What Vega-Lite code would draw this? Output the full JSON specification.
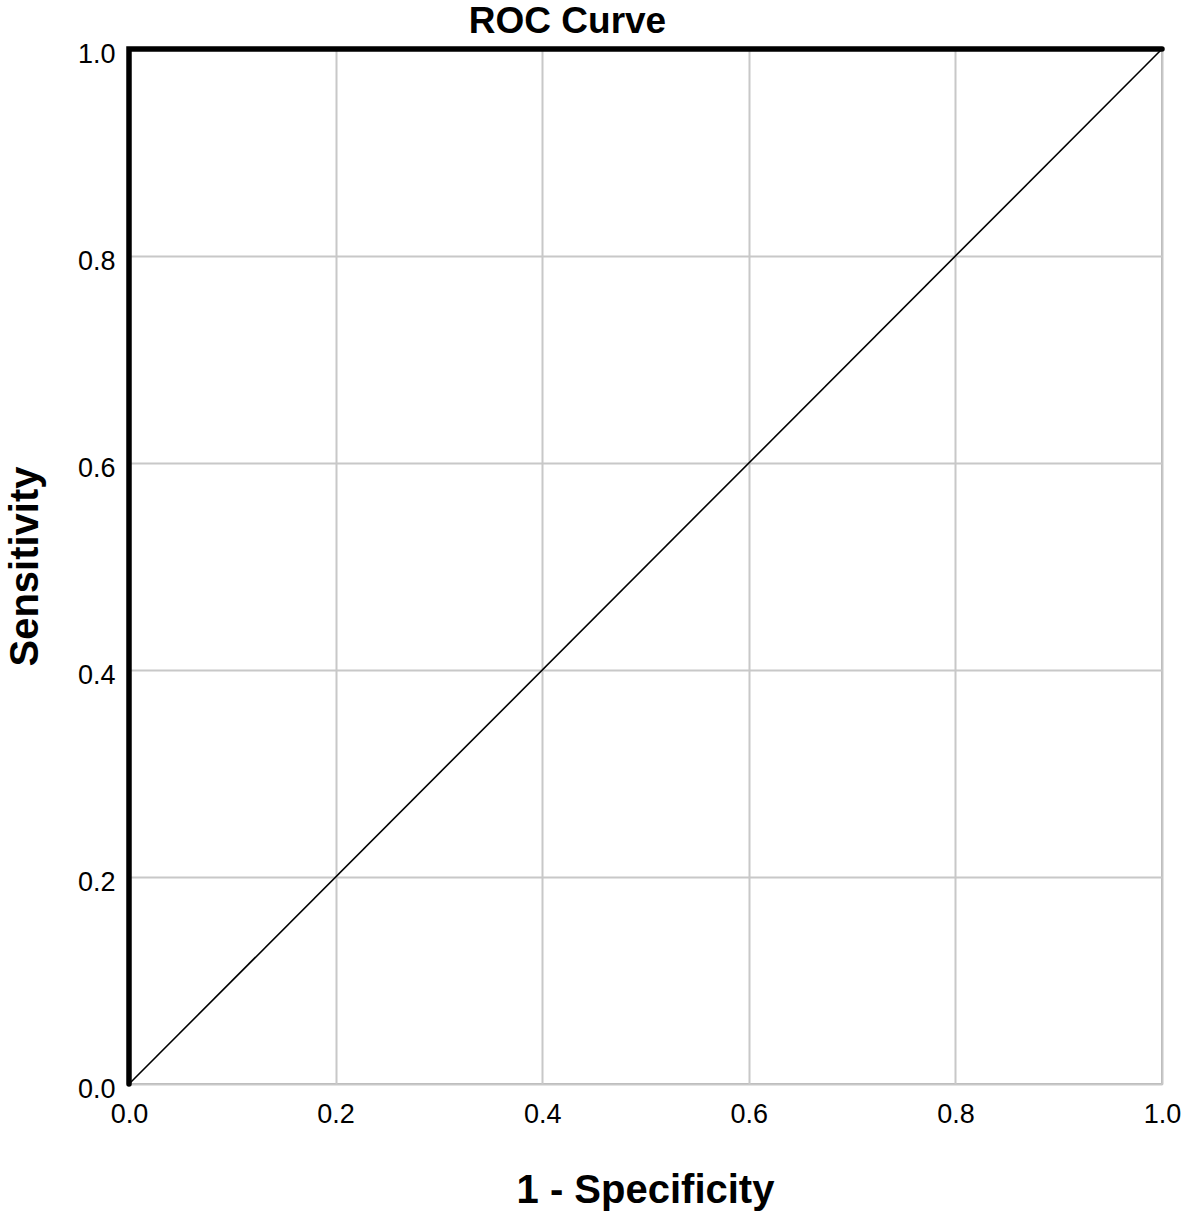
{
  "$schema": "https://vega.github.io/schema/vega-lite/v6.json",
  "width": 1033,
  "height": 1035,
  "autosize": {"type": "none"},
  "padding": {"left": 129, "top": 49, "right": 19, "bottom": 131},
  "background": "white",
  "title": {
    "text": "ROC Curve",
    "font": "Liberation Sans",
    "fontSize": 37,
    "fontWeight": "bold",
    "color": "#000000",
    "anchor": "middle",
    "frame": "group",
    "baseline": "alphabetic",
    "offset": 11,
    "dx": -78,
    "dy": 43
  },
  "config": {
    "view": {"stroke": "#b4b4b4", "strokeWidth": 2},
    "axis": {
      "labelFont": "Liberation Sans",
      "labelFontSize": 27,
      "labelColor": "#000000",
      "titleFont": "Liberation Sans",
      "titleFontSize": 40,
      "titleFontWeight": "bold",
      "titleColor": "#000000",
      "gridColor": "#c8c8c8",
      "gridWidth": 2,
      "gridOpacity": 1,
      "ticks": false,
      "domain": false
    }
  },
  "datasets": {
    "roc": [
      {"step": 1, "fpr": 0, "tpr": 0},
      {"step": 2, "fpr": 0, "tpr": 1},
      {"step": 3, "fpr": 1, "tpr": 1}
    ],
    "ref": [
      {"step": 1, "fpr": 0, "tpr": 0},
      {"step": 2, "fpr": 1, "tpr": 1}
    ]
  },
  "layer": [
    {
      "data": {"name": "ref"},
      "mark": {"type": "line", "color": "#000000", "strokeWidth": 1.6},
      "encoding": {
        "x": {
          "field": "fpr",
          "type": "quantitative",
          "scale": {"domain": [0, 1], "nice": false, "zero": false},
          "axis": {
            "title": "1 - Specificity",
            "values": [0, 0.2, 0.4, 0.6, 0.8, 1.0],
            "format": ".1f",
            "labelPadding": 17,
            "labelFlush": false,
            "titleBaseline": "alphabetic",
            "titleX": 516,
            "titleY": 118
          }
        },
        "y": {
          "field": "tpr",
          "type": "quantitative",
          "scale": {"domain": [0, 1], "nice": false, "zero": false},
          "axis": {
            "title": "Sensitivity",
            "values": [0, 0.2, 0.4, 0.6, 0.8, 1.0],
            "format": ".1f",
            "labelPadding": 14,
            "labelFlush": false,
            "labelBaseline": "middle",
            "labelOffset": 5,
            "titleBaseline": "alphabetic",
            "titleAngle": -90,
            "titleX": -92,
            "titleY": 517
          }
        },
        "order": {"field": "step", "type": "quantitative"}
      }
    },
    {
      "data": {"name": "roc"},
      "mark": {"type": "line", "color": "#000000", "strokeWidth": 5.5, "strokeCap": "round", "strokeJoin": "miter"},
      "encoding": {
        "x": {"field": "fpr", "type": "quantitative"},
        "y": {"field": "tpr", "type": "quantitative"},
        "order": {"field": "step", "type": "quantitative"}
      }
    }
  ]
}
